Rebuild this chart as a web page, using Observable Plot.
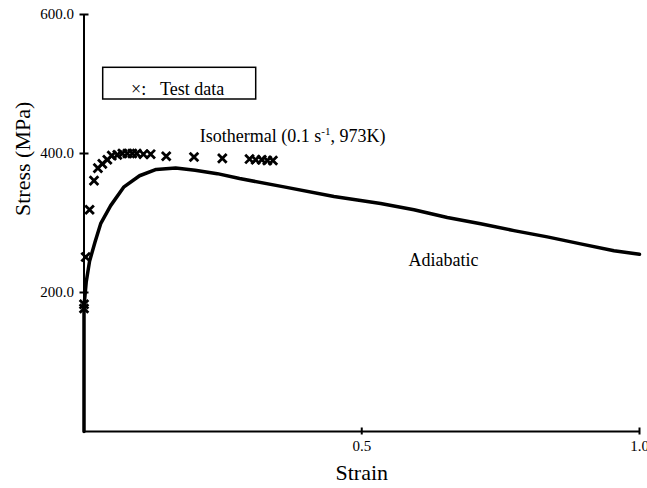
<!DOCTYPE html>
<html><head><meta charset="utf-8">
<script src="https://cdn.jsdelivr.net/npm/d3@7"></script>
<script src="https://cdn.jsdelivr.net/npm/@observablehq/plot@0.6"></script>
<style>body{margin:0;background:#fff;}</style>
</head><body><div id="chart"></div>
<script>
// Adiabatic (simulated) curve
const adiabaticStrain = [0, 0, 0.004, 0.01, 0.02, 0.03, 0.048, 0.072, 0.10, 0.13, 0.165, 0.2, 0.24, 0.28, 0.36, 0.45, 0.534, 0.594, 0.654, 0.714, 0.774, 0.834, 0.894, 0.954, 0.99, 1.0];
const adiabaticStress = [0, 180, 215, 245, 273, 299, 325, 352, 368, 377, 379, 376, 371, 364, 352, 338, 328, 319, 308, 299, 289, 280, 270, 260, 256, 255];
// Test data (isothermal, 0.1 s^-1, 973K)
const testStrain = [0, 0, 0.003, 0.01, 0.018, 0.025, 0.033, 0.042, 0.05, 0.06, 0.069, 0.078, 0.087, 0.095, 0.107, 0.12, 0.148, 0.198, 0.249, 0.298, 0.309, 0.32, 0.33, 0.34];
const testStress = [177, 183, 251, 319, 361, 379, 385, 391, 397, 398, 400, 400, 400, 400, 399, 399, 396, 395, 393, 392, 391, 391, 390, 390];
// Ticks
const xTicks = [0.5, 1.0];
const xTickLabels = ["0.5", "1.0"];
const yTicks = [200, 400, 600];
const yTickLabels = ["200.0", "400.0", "600.0"];
// Texts
const xTitle = "Strain";
const yTitle = "Stress (MPa)";
const adiabaticLabel = "Adiabatic";
const isoParts = ["Isothermal (0.1 s", "-1", ", 973K)"];
const isoLabel = isoParts.join("");
const legendSymbol = "×:";
const legendText = "Test data";

const adiabatic = adiabaticStrain.map((x, i) => ({strain: x, stress: adiabaticStress[i]}));
const test = testStrain.map((x, i) => ({strain: x, stress: testStress[i]}));

const plot = Plot.plot({
  width: 647, height: 488,
  marginLeft: 83.5, marginRight: 8, marginTop: 14, marginBottom: 57,
  x: {domain: [0, 1]},
  y: {domain: [0, 600]},
  style: {fontFamily: "'Liberation Serif', 'Times New Roman', serif", fontSize: "15px", color: "black", background: "white", overflow: "visible"},
  marks: [
    Plot.axisY({ticks: yTicks, tickSize: 9, dx: 5, strokeWidth: 2, tickFormat: () => "", label: null}),
    Plot.axisY({ticks: yTicks, tickSize: 0, tickPadding: 10, tickFormat: d => yTickLabels[yTicks.indexOf(d)], label: null}),
    Plot.axisX({ticks: xTicks, tickSize: 7, dy: -3.5, strokeWidth: 2, tickFormat: () => "", label: null}),
    Plot.axisX({ticks: xTicks, tickSize: 0, tickPadding: 9, tickFormat: d => xTickLabels[xTicks.indexOf(d)], label: null}),
    Plot.ruleX([0], {strokeWidth: 2}),
    Plot.ruleY([0], {strokeWidth: 2}),
    Plot.line(adiabatic, {x: "strain", y: "stress", stroke: "black", strokeWidth: 3.5, strokeLinejoin: "round"}),
    Plot.dot(test, {x: "strain", y: "stress", symbol: "times", r: 4, stroke: "black", strokeWidth: 2.8}),
    Plot.text([adiabaticLabel], {x: 0.584, y: 238.8, textAnchor: "start", lineAnchor: "bottom", fontSize: 18}),
    Plot.text([isoLabel], {x: 0.2085, y: 416.3, textAnchor: "start", lineAnchor: "bottom", fontSize: 18}),
    Plot.text([xTitle], {frameAnchor: "bottom", lineAnchor: "middle", dy: 41, fontSize: 22}),
    Plot.text([yTitle], {frameAnchor: "left", lineAnchor: "middle", rotate: -90, dx: -61, dy: -7, fontSize: 22})
  ]
});

// superscript in isothermal label
d3.select(plot).selectAll("text").filter(function() { return this.textContent === isoLabel; }).each(function() {
  const t = d3.select(this);
  t.text(null);
  t.append("tspan").text(isoParts[0]);
  t.append("tspan").attr("dy", -7).attr("font-size", 11).text(isoParts[1]);
  t.append("tspan").attr("dy", 7).text(isoParts[2]);
});

// legend box
const svg = d3.select(plot.tagName.toLowerCase() === "svg" ? plot : plot.querySelector("svg"));
const lg = svg.append("g").attr("font-family", "'Liberation Serif', 'Times New Roman', serif")
  .attr("font-size", 18).attr("text-anchor", "start");
lg.append("rect").attr("x", 102.7).attr("y", 67.3).attr("width", 153).attr("height", 31.7)
  .attr("fill", "white").attr("stroke", "black").attr("stroke-width", 1.5);
lg.append("text").attr("x", 131).attr("y", 95).text(legendSymbol);
lg.append("text").attr("x", 160).attr("y", 95).text(legendText);

document.getElementById("chart").appendChild(plot);
</script>
</body></html>
